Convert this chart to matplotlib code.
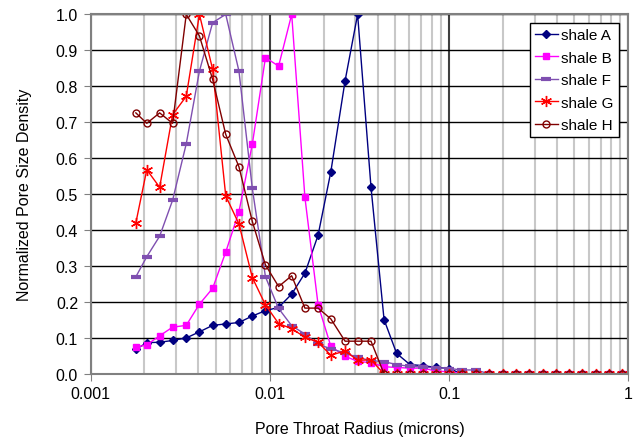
import matplotlib
matplotlib.use("Agg")
import matplotlib.pyplot as plt
from matplotlib.ticker import FixedLocator, FixedFormatter, LogLocator, NullFormatter

plt.rcParams['font.family'] = ['Liberation Sans', 'DejaVu Sans']

# pore throat radius bins (microns)
radius = [0.00179, 0.00206, 0.00243, 0.00287, 0.00342, 0.00405, 0.00480, 0.00568,
          0.00673, 0.00799, 0.00946, 0.0112, 0.01325, 0.0157, 0.0186, 0.0219,
          0.0263, 0.0309, 0.0367, 0.0434, 0.0510, 0.0605, 0.0715, 0.0845,
          0.100, 0.1185, 0.141, 0.168, 0.199, 0.236, 0.280, 0.333,
          0.393, 0.466, 0.553, 0.657, 0.777, 0.921]

shale_a = [0.068, 0.087, 0.088, 0.093, 0.100, 0.117, 0.135, 0.139,
           0.143, 0.161, 0.176, 0.185, 0.222, 0.280, 0.386, 0.562,
           0.815, 1.000, 0.519, 0.151, 0.057, 0.026, 0.023, 0.018,
           0.015, 0, 0, 0, 0, 0, 0, 0, 0, 0, 0, 0, 0, 0]
shale_b = [0.074, 0.081, 0.106, 0.130, 0.135, 0.194, 0.238, 0.339,
           0.451, 0.639, 0.880, 0.856, 1.000, 0.491, 0.192, 0.077,
           0.049, 0.035, 0.031, 0.020, 0.018, 0.016, 0.016, 0.008,
           0.006, 0, 0, 0, 0, 0, 0, 0, 0, 0, 0, 0, 0, 0]
shale_f = [0.270, 0.326, 0.383, 0.483, 0.640, 0.842, 0.977, 1.000,
           0.842, 0.516, 0.270, 0.182, 0.134, 0.111, 0.082, 0.070,
           0.058, 0.046, 0.037, 0.034, 0.026, 0.021, 0.019, 0.017,
           0.015, 0.011, 0.011, 0, 0, 0, 0, 0, 0, 0, 0, 0, 0, 0]
shale_g = [0.420, 0.568, 0.519, 0.721, 0.772, 1.000, 0.847, 0.495,
           0.417, 0.268, 0.192, 0.140, 0.126, 0.102, 0.088, 0.052,
           0.064, 0.038, 0.039, 0, 0, 0, 0, 0,
           0, 0, 0, 0, 0, 0, 0, 0, 0, 0, 0, 0, 0, 0]
shale_h = [0.726, 0.697, 0.726, 0.697, 1.000, 0.940, 0.819, 0.666,
           0.576, 0.424, 0.303, 0.243, 0.273, 0.183, 0.183, 0.153,
           0.091, 0.091, 0.091, 0, 0, 0, 0, 0,
           0, 0, 0, 0, 0, 0, 0, 0, 0, 0, 0, 0, 0, 0]

fig = plt.figure(figsize=(6.33, 4.39), dpi=100)
ax = fig.add_axes([0.143, 0.146, 0.8496, 0.819])

ax.plot(radius, shale_a, color='#000080', marker='D', ms=4, lw=1, label='shale A')
ax.plot(radius, shale_b, color='#FF00FF', marker='s', ms=5, lw=1, label='shale B')
ax.plot(radius, shale_f, color='#7F4FB0', marker='_', ms=7, mew=3, lw=1, label='shale F')
ax.plot(radius, shale_g, color='#FF0000', marker=(6, 2, 0), ms=8, mew=1, lw=1, label='shale G')
ax.plot(radius, shale_h, color='#800000', marker='o', ms=5, mfc='none', mew=1, lw=1, label='shale H')

ax.set_xscale('log')
ax.set_xlim(0.001, 1)
ax.set_ylim(0, 1)

ax.xaxis.set_major_locator(FixedLocator([0.001, 0.01, 0.1, 1]))
ax.xaxis.set_major_formatter(FixedFormatter(['0.001', '0.01', '0.1', '1']))
ax.xaxis.set_minor_locator(LogLocator(base=10, subs=range(2, 10)))
ax.xaxis.set_minor_formatter(NullFormatter())
ax.set_yticks([i / 10 for i in range(11)])
ax.set_yticklabels(['%.1f' % (i / 10) for i in range(11)])

ax.grid(True, which='minor', axis='x', color='#C8C8C8', lw=1.5)
ax.grid(True, which='major', axis='x', color='#404040', lw=1.5)
ax.grid(True, which='major', axis='y', color='#000000', lw=1)
ax.set_axisbelow(True)

for s in ax.spines.values():
    s.set_color('#808080')
    s.set_linewidth(1.5)

ax.tick_params(axis='both', which='major', direction='out', length=5, color='#808080',
               labelsize=11.5, pad=4)
ax.tick_params(axis='x', which='minor', length=0)

ax.set_xlabel('Pore Throat Radius (microns)', fontsize=11.5, labelpad=14)
ax.set_ylabel('Normalized Pore Size Density', fontsize=11.5, labelpad=17)

leg = ax.legend(loc='upper right', bbox_to_anchor=(0.982, 0.976), fontsize=11,
                frameon=True, fancybox=False, edgecolor='black', framealpha=1,
                handlelength=1.5, handletextpad=0.2, borderpad=0.35, labelspacing=0.55,
                borderaxespad=0)
leg.get_frame().set_linewidth(1)

fig.savefig('out.png', dpi=100)
